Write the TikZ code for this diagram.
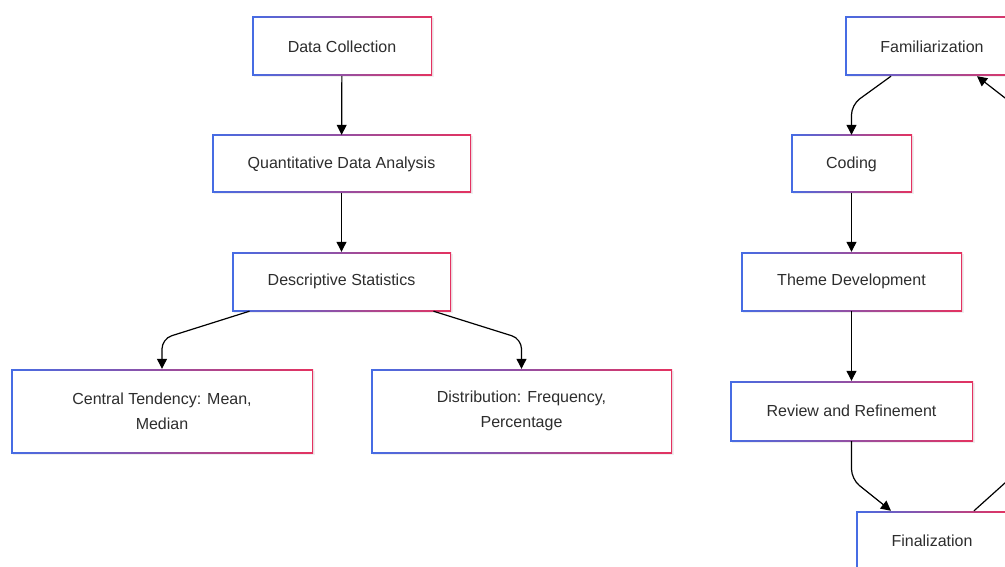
\documentclass[tikz,border=0pt]{standalone}
\usepackage{fontspec}
\setmainfont{Liberation Sans}
\usetikzlibrary{arrows.meta,shadows}
\definecolor{cb}{RGB}{70,108,228}
\definecolor{cr}{RGB}{228,50,96}
\definecolor{txt}{RGB}{45,45,45}
\tikzset{
  gbox/.style={rectangle, inner sep=0pt, align=center, text=txt,
    font=\fontsize{16}{25}\selectfont,
    left color=cb, right color=cr,
    drop shadow={opacity=0.12, shadow xshift=1.5pt, shadow yshift=-1.5pt},
    path picture={\fill[white] ([shift={(1.5pt,-1.5pt)}]path picture bounding box.north west) rectangle ([shift={(-1.5pt,1.5pt)}]path picture bounding box.south east);}},
  arr/.style={draw=black, line width=1.2pt, rounded corners=10pt, -{Triangle[length=10pt,width=10pt]}}
}
\begin{document}
\begin{tikzpicture}[x=1pt,y=-1pt]
\useasboundingbox (0,0) rectangle (1005,567);
\clip (0,0) rectangle (1005,567);
\fill[white] (0,0) rectangle (1005,567);
% left flow
\node[gbox, minimum width=180pt, minimum height=59pt] (dc) at (342,46.5) {Data Collection};
\node[gbox, minimum width=259pt, minimum height=58pt] (qda) at (341.5,164) {Quantitative Data Analysis};
\node[gbox, minimum width=219pt, minimum height=59pt] (ds) at (341.5,281.5) {Descriptive Statistics};
\node[gbox, minimum width=302pt, minimum height=84pt] (ct) at (162,411) {Central Tendency: Mean,\\Median};
\node[gbox, minimum width=301pt, minimum height=84pt] (dist) at (521.5,411) {Distribution: Frequency,\\Percentage};
% right flow
\node[gbox, minimum width=174pt, minimum height=59pt] (fam) at (932,46.5) {Familiarization};
\node[gbox, minimum width=121pt, minimum height=58pt] (cod) at (851.5,164) {Coding};
\node[gbox, minimum width=221pt, minimum height=59pt] (thd) at (851.5,281.5) {Theme Development};
\node[gbox, minimum width=243pt, minimum height=60pt] (rev) at (851.5,411) {Review and Refinement};
\node[gbox, minimum width=152pt, minimum height=59pt] (fin) at (932,540.5) {Finalization};
\coordinate (c1) at (1045,447);
\coordinate (c2) at (1045,129);
% connectors
\draw[arr] (dc) -- (qda);
\draw[arr] (qda) -- (ds);
\draw[arr] ([xshift=-92pt]ds.south) -- ([yshift=30pt]ct.north) -- (ct.north);
\draw[arr] ([xshift=92pt]ds.south) -- ([yshift=30pt]dist.north) -- (dist.north);
\draw[arr] ([xshift=-41pt]fam.south) -- ([yshift=30pt]cod.north) -- (cod.north);
\draw[arr] (cod) -- (thd);
\draw[arr] (thd) -- (rev);
\draw[arr] (rev.south) -- ([yshift=-38pt]rev.south) -- ([xshift=-41pt]fin.north);
\draw[arr] ([xshift=42pt]fin.north) -- (c1) -- (c2) -- ([xshift=45pt]fam.south);
\end{tikzpicture}
\end{document}
